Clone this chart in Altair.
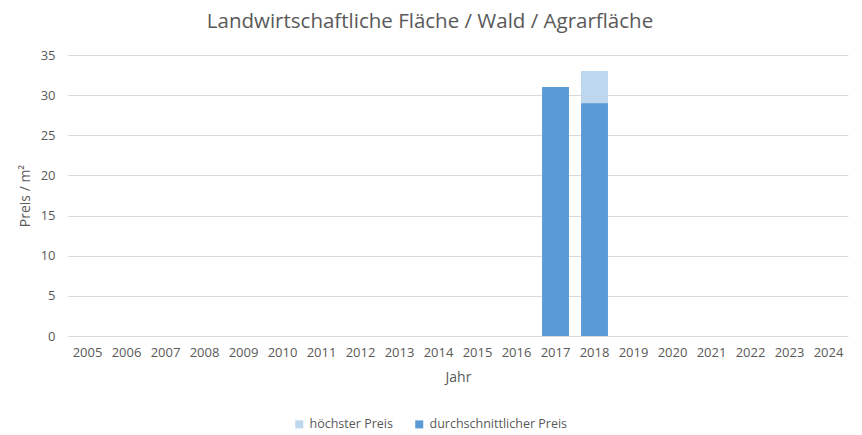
import altair as alt
import pandas as pd

years = [str(y) for y in range(2005, 2025)]
series = ["höchster Preis", "durchschnittlicher Preis"]
hoechster_jahre = ["2017", "2018"]
hoechster_werte = [31, 33]
durchschnitt_jahre = ["2017", "2018"]
durchschnitt_werte = [31, 29]
colors = ["#BDD7EE", "#5B9BD5"]

rows = []
for j, v in zip(hoechster_jahre, hoechster_werte):
    rows.append({"Jahr": j, "Preis": v, "Serie": series[0], "ord": 0})
for j, v in zip(durchschnitt_jahre, durchschnitt_werte):
    rows.append({"Jahr": j, "Preis": v, "Serie": series[1], "ord": 1})
df = pd.DataFrame(rows)

FONT = "Open Sans"
GREY = "#595959"

chart = alt.Chart(df).mark_bar().encode(
    x=alt.X("Jahr:N", scale=alt.Scale(domain=years, paddingInner=0.31, paddingOuter=0.155),
            axis=alt.Axis(title="Jahr", labelAngle=0, ticks=False, domain=False, labelPadding=10,
                          titlePadding=11)),
    y=alt.Y("Preis:Q", stack=None, scale=alt.Scale(domain=[0, 35], nice=False),
            axis=alt.Axis(title="Preis / m²", values=list(range(0, 36, 5)), ticks=False, domain=False,
                          labelPadding=13, titlePadding=8, gridColor="#D9D9D9")),
    color=alt.Color("Serie:N", scale=alt.Scale(domain=series, range=colors),
                    legend=alt.Legend(title=None, orient="none", legendX=225, legendY=363,
                                      direction="horizontal", symbolType="square", symbolSize=64,
                                      symbolStrokeWidth=0, columnPadding=20, labelOffset=4)),
    order=alt.Order("ord:Q"),
).properties(
    width=780, height=281,
    title=alt.TitleParams("Landwirtschaftliche Fläche / Wald / Agrarfläche", fontSize=20.5,
                          font=FONT, color=GREY, fontWeight="normal", anchor="middle", dx=-28,
                          offset=17),
    autosize=alt.AutoSizeParams(type="none"),
    padding={"left": 68, "top": 55, "right": 14, "bottom": 99},
).configure_view(stroke=None).configure_axis(
    labelFont=FONT, titleFont=FONT, labelFontSize=13, titleFontSize=14, labelColor=GREY,
    titleColor=GREY, titleFontWeight="normal"
).configure_legend(labelFont=FONT, labelFontSize=12.5, labelColor=GREY)

chart.save("out.html", embed_options={"renderer": "svg", "actions": False})
